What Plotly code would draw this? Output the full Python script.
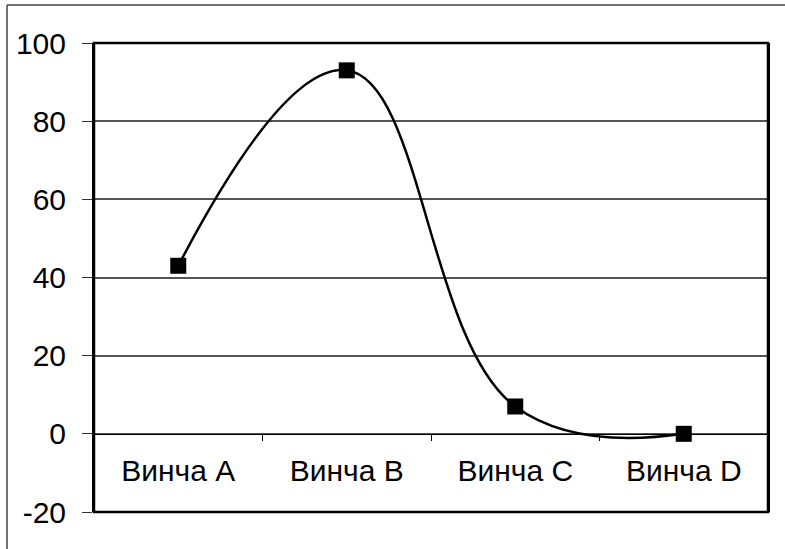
import plotly.graph_objects as go

categories = ["Винча A", "Винча B", "Винча C", "Винча D"]
values = [43, 93, 7, 0]
y_ticks = [-20, 0, 20, 40, 60, 80, 100]
y_tick_text = ["-20", "0", "20", "40", "60", "80", "100"]

W, H = 785, 549
L, R, T, B = 94, 768, 43, 512
pw, ph = R - L, B - T

def px_x(px):
    return (px - L) / pw

def px_y(py):
    return (B - py) / ph

fig = go.Figure()
fig.add_trace(go.Scatter(
    x=categories, y=values, mode="lines+markers",
    line=dict(color="black", width=2.5, shape="spline", smoothing=1.2),
    marker=dict(symbol="square", size=16, color="black"),
    showlegend=False, cliponaxis=False,
))

zero_pos = 20 / 120

fig.update_layout(
    width=W, height=H,
    margin=dict(l=L, r=W - R, t=T, b=H - B),
    paper_bgcolor="white", plot_bgcolor="white",
    font=dict(family="Liberation Sans, Arial, sans-serif", size=30, color="black"),
    xaxis=dict(
        type="category", range=[-0.5, 3.5],
        anchor="free", position=zero_pos,
        showline=True, linecolor="black", linewidth=1,
        ticks="outside", tickson="boundaries", ticklen=6, tickcolor="black", tickwidth=1,
        showgrid=False, zeroline=False,
        tickfont=dict(size=30),
        ticklabelstandoff=10,
    ),
    yaxis=dict(
        range=[-20, 100], tickvals=y_ticks, ticktext=y_tick_text,
        showline=True, linecolor="black", linewidth=2, mirror=True,
        ticks="outside", ticklen=10, tickcolor="#333", tickwidth=1,
        showgrid=True, gridcolor="#555", gridwidth=1.5,
        zeroline=False,
        tickfont=dict(size=30),
        ticklabelstandoff=10,
    ),
    shapes=[
        dict(type="rect", xref="paper", yref="paper", x0=0, x1=1, y0=0, y1=1,
             line=dict(color="black", width=2.5)),
        dict(type="line", xref="paper", yref="paper",
             x0=px_x(7), x1=px_x(7), y0=px_y(H), y1=px_y(5),
             line=dict(color="#444", width=1.5)),
        dict(type="line", xref="paper", yref="paper",
             x0=px_x(7), x1=px_x(W), y0=px_y(5), y1=px_y(5),
             line=dict(color="#444", width=1.5)),
    ],
)

fig.write_html(
    "out.html",
    config={"displayModeBar": False},
    post_script=(
        "document.documentElement.style.margin='0';"
        "document.documentElement.style.overflow='hidden';"
        "document.body.style.margin='0';document.body.style.padding='0';"
        "document.body.style.overflow='hidden';"
    ),
)
